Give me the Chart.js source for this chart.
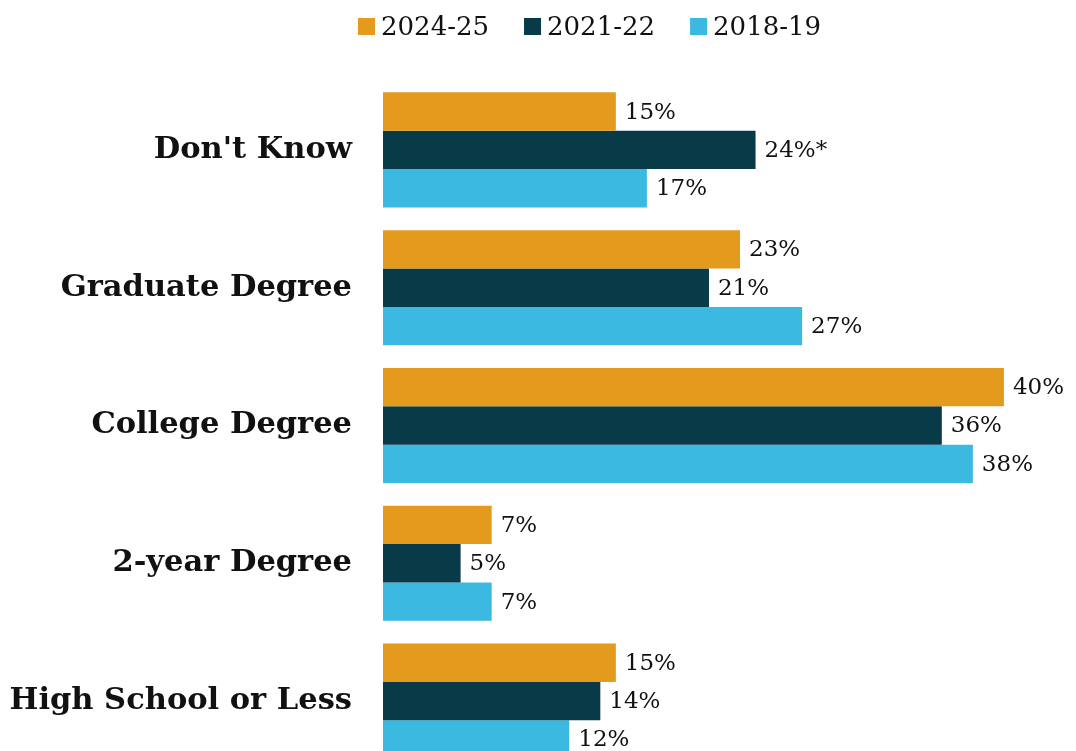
<!DOCTYPE html>
<html>
<head>
<meta charset="utf-8">
<script src="https://cdn.jsdelivr.net/npm/chart.js@4"></script>
<style>
  html, body { margin: 0; padding: 0; background: #fff; overflow: hidden; }
  canvas { display: block; }
</style>
</head>
<body>
<canvas id="Chart1" width="1076" height="770"></canvas>
<script>
const categories = ["Don't Know", 'Graduate Degree', 'College Degree', '2-year Degree', 'High School or Less'];
const seriesNames = ['2024-25', '2021-22', '2018-19'];
const values2425 = [15, 23, 40, 7, 15];
const values2122 = [24, 21, 36, 5, 14];
const values1819 = [17, 27, 38, 7, 12];
const notes2122 = ['*', '', '', '', ''];
const colors = ['#E49A1C', '#083A48', '#3BB9E0'];

const serif = "'DejaVu Serif', Georgia, serif";

// value labels + legend drawn by hand
const extras = {
    id: 'extras',
    afterDatasetsDraw(chart) {
        const c = chart.ctx;
        c.save();
        c.font = '23px ' + serif;
        c.fillStyle = '#111';
        c.textBaseline = 'middle';
        c.textAlign = 'left';
        chart.data.datasets.forEach((ds, i) => {
            chart.getDatasetMeta(i).data.forEach((bar, j) => {
                const note = ds.notes ? ds.notes[j] : '';
                c.fillText(ds.data[j] + '%' + note, bar.x + 9, bar.y + 1);
            });
        });

        // legend
        c.font = '26px ' + serif;
        let x = 358;
        const y = 27;
        chart.data.datasets.forEach(ds => {
            c.fillStyle = ds.backgroundColor;
            c.fillRect(x, y - 9, 17, 17);
            c.fillStyle = '#111';
            c.fillText(ds.label, x + 23, y + 1);
            x += 23 + c.measureText(ds.label).width + 35;
        });
        c.restore();
    }
};

const ctx1 = document.getElementById('Chart1').getContext('2d');

if (ctx1)
    new Chart(ctx1, {
        type: 'bar',
        data: {
            labels: categories,
            datasets: [{
                label: seriesNames[0],
                data: values2425,
                backgroundColor: colors[0]
            }, {
                label: seriesNames[1],
                data: values2122,
                notes: notes2122,
                backgroundColor: colors[1]
            }, {
                label: seriesNames[2],
                data: values1819,
                backgroundColor: colors[2]
            }]
        },
        options: {
            indexAxis: 'y',
            responsive: false,
            animation: false,
            layout: {
                padding: { top: 81, right: 10, bottom: 0, left: 0 }
            },
            datasets: {
                bar: {
                    categoryPercentage: 0.835,
                    barPercentage: 1
                }
            },
            plugins: {
                legend: { display: false },
                tooltip: { enabled: false }
            },
            scales: {
                x: {
                    display: false,
                    min: 0,
                    max: 44
                },
                y: {
                    grid: { display: false, drawTicks: false },
                    border: { display: false },
                    afterFit(scale) {
                        scale.width = 383;
                        scale.paddingTop = 0;
                        scale.paddingBottom = 0;
                    },
                    ticks: {
                        padding: 31,
                        color: '#111',
                        font: { family: serif, size: 30.5, weight: 'bold' }
                    }
                }
            }
        },
        plugins: [extras]
    });
</script>
</body>
</html>
